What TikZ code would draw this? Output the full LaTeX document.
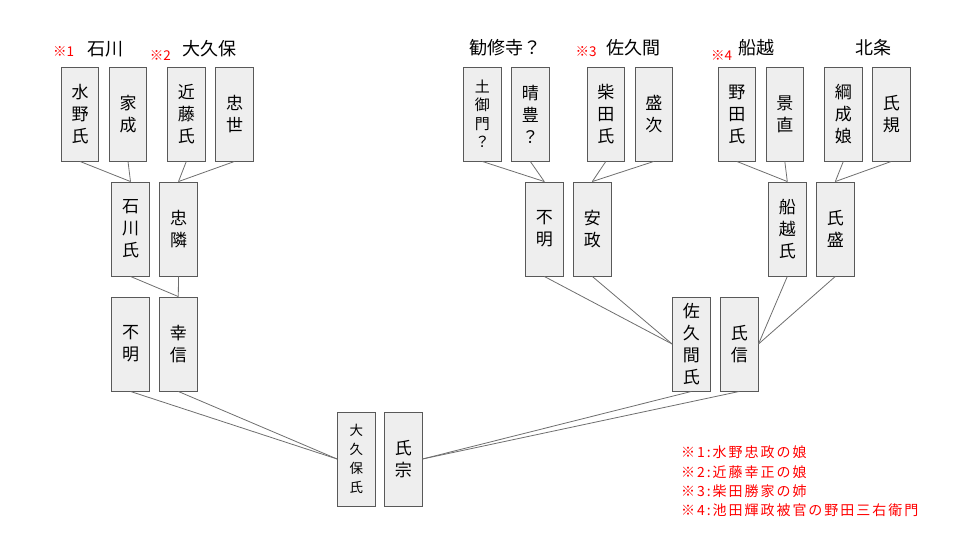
\documentclass[tikz,border=0pt]{standalone}
\usepackage{fontspec}
\setmainfont{Noto Sans CJK JP}
\newfontfamily\notefont[LetterSpace=14]{Noto Sans CJK JP}
\definecolor{boxline}{HTML}{595959}
\definecolor{boxfill}{HTML}{EEEEEE}
\definecolor{linkc}{HTML}{6E6E6E}
\definecolor{notered}{HTML}{FF0000}
\begin{document}
\begin{tikzpicture}[x=1pt,y=-1pt,
  fbox/.style={draw=boxline, fill=boxfill, line width=0.9pt, minimum width=37.5pt, minimum height=94pt, inner sep=0pt, align=center, font=\fontsize{17}{22}\selectfont},
  smallbox/.style={font=\fontsize{15}{18.5}\selectfont},
  tinybox/.style={font=\fontsize{13.5}{19}\selectfont},
  link/.style={draw=linkc, line width=0.8pt},
  grp/.style={inner sep=0pt, font=\fontsize{18}{20}\selectfont},
  refmark/.style={inner sep=0pt, text=notered, font=\fontsize{13.5}{15}\selectfont},
  notetext/.style={inner sep=0pt, anchor=west, text=notered, font=\notefont\fontsize{14}{16}\selectfont}
]
\useasboundingbox (0,0) rectangle (960,540);
% row 1
\node[fbox] (mizuno) at (80,114) {水\\野\\氏};
\node[fbox] (ienari) at (128,114) {家\\成};
\node[fbox] (kondo) at (186.3,114) {近\\藤\\氏};
\node[fbox] (tadayo) at (234.5,114) {忠\\世};
\node[fbox,smallbox] (tsuchi) at (482.3,114) {土\\御\\門\\？};
\node[fbox] (haretoyo) at (530.3,114) {晴\\豊\\？};
\node[fbox] (shibata) at (605.8,114) {柴\\田\\氏};
\node[fbox] (moritsugu) at (653.8,114) {盛\\次};
\node[fbox] (noda) at (736.8,114) {野\\田\\氏};
\node[fbox] (kagenao) at (784.8,114) {景\\直};
\node[fbox] (tsunashige) at (843.3,114) {綱\\成\\娘};
\node[fbox] (ujinori) at (891.3,114) {氏\\規};
% row 2
\node[fbox] (ishikawa) at (130.5,229) {石\\川\\氏};
\node[fbox] (tadachika) at (178.5,229) {忠\\隣};
\node[fbox] (fumeiB) at (544.3,229) {不\\明};
\node[fbox] (yasumasa) at (592.3,229) {安\\政};
\node[fbox] (funakoshi) at (787.3,229) {船\\越\\氏};
\node[fbox] (ujimori) at (835.3,229) {氏\\盛};
% row 3
\node[fbox] (fumeiA) at (130.5,344) {不\\明};
\node[fbox] (yukinobu) at (178.3,344) {幸\\信};
\node[fbox] (sakuma) at (691.3,344) {佐\\久\\間\\氏};
\node[fbox] (ujinobu) at (739.3,344) {氏\\信};
% row 4
\node[fbox,tinybox] (okubo) at (356.3,459) {大\\久\\保\\氏};
\node[fbox] (ujimune) at (403.3,459) {氏\\宗};
% connectors
\draw[link] (mizuno.south) -- (ishikawa.north);
\draw[link] (ienari.south) -- (ishikawa.north);
\draw[link] (kondo.south) -- (tadachika.north);
\draw[link] (tadayo.south) -- (tadachika.north);
\draw[link] (ishikawa.south) -- (yukinobu.north);
\draw[link] (tadachika.south) -- (yukinobu.north);
\draw[link] (fumeiA.south) -- (okubo.west);
\draw[link] (yukinobu.south) -- (okubo.west);
\draw[link] (tsuchi.south) -- (fumeiB.north);
\draw[link] (haretoyo.south) -- (fumeiB.north);
\draw[link] (shibata.south) -- (yasumasa.north);
\draw[link] (moritsugu.south) -- (yasumasa.north);
\draw[link] (noda.south) -- (funakoshi.north);
\draw[link] (kagenao.south) -- (funakoshi.north);
\draw[link] (tsunashige.south) -- (ujimori.north);
\draw[link] (ujinori.south) -- (ujimori.north);
\draw[link] (fumeiB.south) -- (sakuma.west);
\draw[link] (yasumasa.south) -- (sakuma.west);
\draw[link] (funakoshi.south) -- (ujinobu.east);
\draw[link] (ujimori.south) -- (ujinobu.east);
\draw[link] (sakuma.south) -- (ujimune.east);
\draw[link] (ujinobu.south) -- (ujimune.east);
% group labels
\node[grp] (gIshikawa) at (105.5,49) {石川};
\node[grp] (gOkubo) at (209.7,49) {大久保};
\node[grp] (gKaju) at (505,48) {勧修寺？};
\node[grp] (gSakuma) at (633,48) {佐久間};
\node[grp] (gFuna) at (756.8,48) {船越};
\node[grp] (gHojo) at (873.3,48) {北条};
\node[refmark] (m1) at (63.7,52) {※1};
\node[refmark] (m2) at (160.3,55.7) {※2};
\node[refmark] (m3) at (586,51.7) {※3};
\node[refmark] (m4) at (721.7,55.7) {※4};
% notes
\node[notetext] (n1) at (681,452.5) {※1:水野忠政の娘};
\node[notetext] (n2) at (681,472) {※2:近藤幸正の娘};
\node[notetext] (n3) at (681,491.3) {※3:柴田勝家の姉};
\node[notetext] (n4) at (681,510.6) {※4:池田輝政被官の野田三右衛門};
\end{tikzpicture}
\end{document}
